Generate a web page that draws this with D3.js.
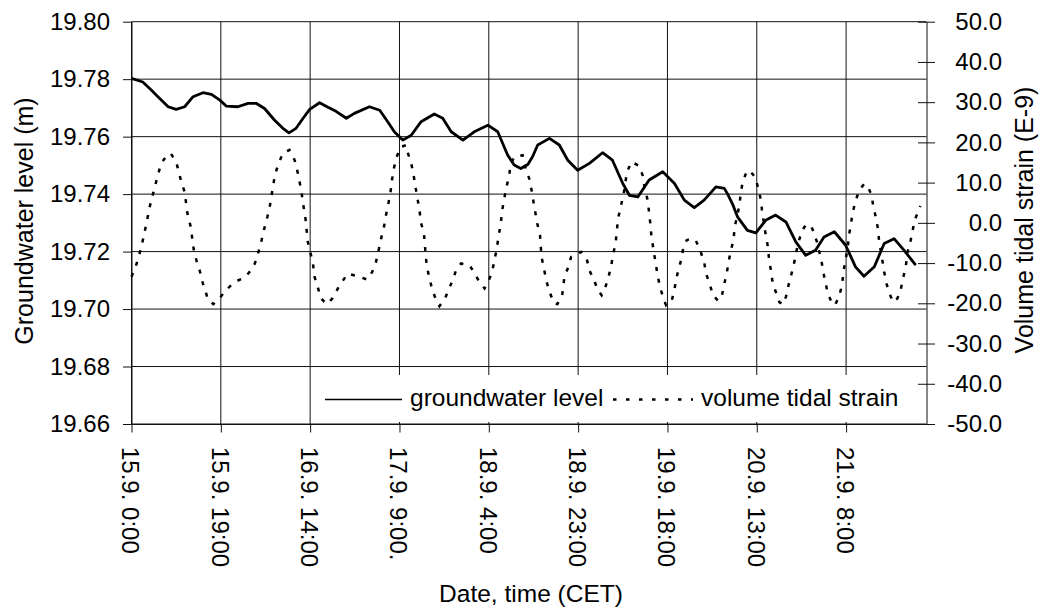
<!DOCTYPE html>
<html>
<head>
<meta charset="utf-8">
<script src="https://cdn.jsdelivr.net/npm/d3@7"></script>
<style>
	body{margin:0;background:#fff;}
	svg{display:block;font-family:"Liberation Sans", Arial, sans-serif;}
</style>
</head>
<body>
<div id="chart"></div>
<script>

//data : hours since 15.9. 0:00
const gwHours = [0,2.4,4.2,6.0,7.8,9.5,11.3,13.1,15.2,17.0,18.8,20.2,22.6,24.8,26.5,28.3,30.4,32.2,33.5,35.0,36.5,37.9,40.0,41.8,43.5,45.7,47.4,50.6,52.8,54.5,55.9,57.7,59.5,61.6,64.4,66.2,68.0,70.5,72.9,75.8,77.9,80.0,81.4,82.8,84.3,85.3,86.4,88.9,91.0,92.8,94.9,97.4,100.2,102.3,104.5,105.9,107.7,110.1,113.0,115.5,117.6,119.7,121.8,124.3,126.1,126.8,127.8,128.9,131.0,132.8,134.9,137.0,139.2,141.3,143.4,145.5,147.3,149.5,151.9,154.0,155.8,158.0,160.1,162.2,164.3,166.8];
const gwLevel = [19.7803,19.7790,19.7762,19.7733,19.7704,19.7695,19.7704,19.7739,19.7753,19.7747,19.7727,19.7706,19.7704,19.7716,19.7716,19.7698,19.7658,19.7629,19.7613,19.7629,19.7664,19.7695,19.7718,19.7702,19.7688,19.7664,19.7681,19.7704,19.7692,19.7652,19.7617,19.7588,19.7605,19.7652,19.7679,19.7664,19.7617,19.7588,19.7617,19.7640,19.7617,19.7536,19.7501,19.7489,19.7503,19.7530,19.7571,19.7594,19.7571,19.7518,19.7483,19.7507,19.7544,19.7518,19.7437,19.7396,19.7390,19.7449,19.7478,19.7437,19.7379,19.7353,19.7379,19.7425,19.7420,19.7400,19.7367,19.7321,19.7274,19.7265,19.7309,19.7327,19.7303,19.7234,19.7187,19.7205,19.7251,19.7269,19.7222,19.7147,19.7114,19.7147,19.7228,19.7245,19.7205,19.7153];

const strainHours = [0,1.0,2.1,3.1,4.1,4.9,5.5,6.1,6.9,8.3,9.5,10.6,11.3,11.9,12.6,13.2,13.8,14.5,15.2,16.3,17.4,18.7,20.1,21.9,23.7,24.8,25.8,26.5,27.0,27.6,28.2,28.9,29.4,30.1,30.5,31.3,32.2,33.6,34.7,35.4,36.1,36.6,37.0,37.5,38.1,38.6,38.9,39.6,40.3,41.6,42.8,43.9,45.0,46.0,48.5,50.1,51.2,52.0,52.5,53.1,53.7,54.2,54.7,55.1,55.4,55.8,56.4,57.3,58.4,58.8,59.5,60.0,60.4,61.25,61.6,62.2,62.4,62.8,63.4,63.9,64.6,65.5,66.7,67.4,68.5,69.0,70.1,71.9,72.9,74.0,75.1,76.0,76.7,77.2,77.7,78.1,78.5,78.8,79.2,79.8,80.4,80.6,81.4,83.2,83.9,84.6,85.1,85.8,86.3,86.9,87.05,87.3,87.8,88.3,89.2,89.9,90.6,91.6,92.1,92.8,93.5,95.6,96.9,97.4,98.4,99.2,100.0,100.7,101.4,102.0,102.5,103.0,103.5,104.1,104.7,105.4,106.4,108.0,108.7,109.1,109.8,110.35,110.6,111.05,111.5,111.9,112.4,113.1,113.7,114.9,115.45,115.9,116.5,117.0,117.4,118.1,119.0,120.0,121.0,121.8,122.2,122.9,123.7,124.8,125.6,126.1,126.6,127.0,127.5,128.05,128.3,128.8,129.3,129.6,130.0,130.7,131.4,132.7,133.3,133.9,134.1,134.8,135.3,135.6,136.0,136.3,136.9,137.8,138.5,139.2,139.75,140.4,141.0,141.4,142.0,142.7,143.6,144.8,145.3,145.8,146.8,147.2,147.7,148.0,148.9,149.6,150.5,151.2,151.4,151.9,152.4,152.6,153.0,153.35,153.7,154.05,154.8,155.8,156.5,157.4,157.8,158.3,158.7,159.0,159.6,160.1,160.6,161.1,162.0,162.9,163.6,164.1,164.7,165.0,165.6,166.1,166.6,167.3,167.8];
const strainValues = [-13.4,-10.5,-6.0,-0.6,5.2,8.6,11.4,13.9,15.8,17.3,15.2,10.2,7.7,2.3,-1.0,-6.4,-9.3,-11.8,-15.1,-19.1,-20.2,-18.8,-16.7,-14.7,-13.8,-12.6,-11.3,-9.3,-7.2,-4.7,-1.6,1.5,4.0,9.0,11.9,14.8,17.3,18.1,15.6,12.3,8.1,4.0,1.1,-4.7,-7.6,-10.1,-13.3,-15.9,-18.8,-20.2,-18.7,-16.3,-14.3,-12.6,-13.4,-14.1,-12.2,-9.7,-7.2,-3.9,-1.0,2.3,5.2,7.7,10.6,13.5,16.4,18.9,19.3,17.3,14.8,11.9,9.0,3.2,-0.1,-2.6,-5.5,-10.9,-13.8,-16.3,-18.6,-20.7,-18.8,-16.7,-13.8,-11.8,-10.1,-10.5,-12.4,-14.7,-16.3,-14.3,-12.2,-9.3,-6.4,-3.1,-0.6,2.7,5.6,9.0,12.3,14.4,16.4,16.8,13.1,11.0,8.1,3.2,-0.1,-3.1,-6.0,-8.9,-11.8,-14.7,-18.0,-20.0,-20.2,-18.0,-13.4,-11.3,-8.5,-7.2,-9.3,-11.8,-14.3,-16.7,-18.0,-16.3,-13.8,-10.8,-7.6,-4.7,1.1,4.2,7.3,12.7,15.2,14.1,11.9,9.0,5.6,-0.1,-3.5,-6.8,-10.1,-13.0,-15.9,-18.6,-20.5,-19.4,-16.7,-13.8,-10.9,-8.9,-6.0,-4.3,-3.9,-4.3,-7.0,-9.7,-12.6,-14.9,-18.0,-19.4,-18.0,-15.1,-12.6,-9.7,-6.8,-4.3,-1.0,1.5,4.4,7.4,10.2,12.3,13.1,11.3,8.6,5.6,3.2,-2.2,-5.5,-8.9,-11.8,-14.3,-16.7,-19.7,-20.3,-18.4,-15.5,-12.6,-9.7,-7.2,-4.3,-1.8,-0.3,-1.4,-3.1,-4.7,-9.7,-12.6,-15.1,-17.2,-19.7,-20.5,-18.4,-15.1,-12.2,-9.3,-5.5,-3.1,-0.6,2.3,4.0,5.6,8.1,9.6,9.4,6.9,4.0,1.5,-1.0,-4.3,-8.5,-12.2,-15.1,-17.2,-19.7,-18.8,-16.7,-13.8,-10.9,-7.6,-5.1,-2.2,0.7,2.7,4.2];

//tick labels
const timeTicks = [0,19,38,57,76,95,114,133,152];
const timeLabels = ["15.9. 0:00","15.9. 19:00","16.9. 14:00","17.9. 9:00.","18.9. 4:00","18.9. 23:00","19.9. 18:00","20.9. 13:00","21.9. 8:00"];
const levelTicks = [19.66,19.68,19.70,19.72,19.74,19.76,19.78,19.80];
const strainTicks = [-50,-40,-30,-20,-10,0,10,20,30,40,50];
const legendText = ["groundwater level","volume tidal strain"];

function graph(){

	//sizing
	let margin = {top:21.7, right:117.5, bottom:186, left:131.5};
	let width = 1044;
	let height = 610;

	//initiate svg
	let svg = d3.select("#chart")
		.append("svg")
		.attr("width", width)
		.attr("height", height);

	svg.append("rect")
		.attr("width", width)
		.attr("height", height)
		.attr("fill", "#fff");

	//hyphen minus, not unicode minus
	const locale = d3.formatLocale({decimal:".", thousands:",", grouping:[3], currency:["",""], minus:"-"});
	const format1 = locale.format(".1f");
	const format2 = locale.format(".2f");

	//scales
	const xScale = d3.scaleLinear()
		.domain([0,169.1])
		.range([margin.left, width-margin.right]);

	const yLeft = d3.scaleLinear()
		.domain([19.66,19.80])
		.range([height-margin.bottom, margin.top]);

	const yRight = d3.scaleLinear()
		.domain([-50,50])
		.range([height-margin.bottom, margin.top]);

	//grid
	svg.append("g")
		.selectAll("line")
		.data(levelTicks)
		.enter()
		.append("line")
		.attr("x1", margin.left)
		.attr("x2", width-margin.right)
		.attr("y1", (d)=>{return yLeft(d);})
		.attr("y2", (d)=>{return yLeft(d);})
		.attr("stroke", "#111")
		.attr("stroke-width", 1);

	svg.append("g")
		.selectAll("line")
		.data(timeTicks)
		.enter()
		.append("line")
		.attr("x1", (d)=>{return xScale(d);})
		.attr("x2", (d)=>{return xScale(d);})
		.attr("y1", margin.top)
		.attr("y2", height-margin.bottom)
		.attr("stroke", "#111")
		.attr("stroke-width", 1);

	//line generators
	let lineGw = d3.line()
		.x((d,i)=>{return xScale(gwHours[i]);})
		.y((d)=>{return yLeft(d);});

	let lineStrain = d3.line()
		.x((d,i)=>{return xScale(strainHours[i]);})
		.y((d)=>{return yRight(d);});

	//call lines
	svg.append("path")
		.datum(strainValues)
		.attr("fill", "none")
		.attr("stroke", "#000")
		.attr("stroke-width", 2.5)
		.attr("stroke-dasharray", "4,8")
		.attr("d", lineStrain);

	svg.append("path")
		.datum(gwLevel)
		.attr("fill", "none")
		.attr("stroke", "#000")
		.attr("stroke-width", 2.8)
		.attr("stroke-linejoin", "round")
		.attr("d", lineGw);

	//Legend
	let legend = svg.append("g");

	legend.append("rect")
		.attr("x", 316)
		.attr("y", 375)
		.attr("width", width-margin.right-316-1)
		.attr("height", 47)
		.attr("fill", "#fff");

	legend.append("line")
		.attr("x1", 325).attr("x2", 402)
		.attr("y1", 399.5).attr("y2", 399.5)
		.attr("stroke", "#000")
		.attr("stroke-width", 1.5);

	legend.append("text")
		.attr("x", 410)
		.attr("y", 406)
		.style("font-size", "24.5px")
		.text(legendText[0]);

	legend.append("line")
		.attr("x1", 613).attr("x2", 693)
		.attr("y1", 399.5).attr("y2", 399.5)
		.attr("stroke", "#000")
		.attr("stroke-width", 2.5)
		.attr("stroke-dasharray", "3.5,9.5");

	legend.append("text")
		.attr("x", 701)
		.attr("y", 406)
		.style("font-size", "24.5px")
		.text(legendText[1]);

	//x axis
	const xAxis = d3.axisBottom(xScale)
		.tickValues(timeTicks)
		.tickSize(8.5)
		.tickSizeOuter(0)
		.tickFormat((d,i)=>{return timeLabels[i];});

	svg.append("g")
		.attr("class", "axis x_axis")
		.attr("transform", `translate(0,${height-margin.bottom})`)
		.call(xAxis);

	svg.select(".x_axis")
		.selectAll("text")
		.attr("transform", "rotate(90)")
		.attr("x", 23)
		.attr("y", 0)
		.attr("dy", "0.4em")
		.style("text-anchor", "start");

	//y left axis
	const yAxisLeft = d3.axisLeft(yLeft)
		.tickValues(levelTicks)
		.tickSize(8.5)
		.tickSizeOuter(0)
		.tickPadding(13)
		.tickFormat(format2);

	svg.append("g")
		.attr("class", "axis y_axis")
		.attr("transform", `translate(${margin.left},0)`)
		.call(yAxisLeft);

	//y right axis
	const yAxisRight = d3.axisRight(yRight)
		.tickValues(strainTicks)
		.tickSize(8.5)
		.tickSizeOuter(0)
		.tickFormat(format1);

	svg.append("g")
		.attr("class", "axis y2_axis")
		.attr("transform", `translate(${width-margin.right},0)`)
		.call(yAxisRight);

	svg.select(".y2_axis")
		.selectAll("line")
		.attr("x1", -8.5);

	svg.select(".y2_axis")
		.selectAll("text")
		.attr("x", 75.5)
		.style("text-anchor", "end");

	//axis style
	svg.selectAll(".axis")
		.attr("font-family", null)
		.attr("font-size", null)
		.style("font-size", "24px");

	svg.selectAll(".axis path, .axis line")
		.attr("stroke", "#111");

	svg.selectAll(".axis text")
		.attr("fill", "#000");

	//axis titles
	svg.append("text")
		.attr("transform", "translate(33,221) rotate(-90)")
		.style("text-anchor", "middle")
		.style("font-size", "25px")
		.text("Groundwater level (m)");

	svg.append("text")
		.attr("transform", "translate(1033,220) rotate(-90)")
		.style("text-anchor", "middle")
		.style("font-size", "25px")
		.text("Volume tidal strain (E-9)");

	svg.append("text")
		.attr("x", 531)
		.attr("y", 602)
		.style("text-anchor", "middle")
		.style("font-size", "24.5px")
		.text("Date, time (CET)");

} //function graph

graph();
</script>
</body>
</html>
